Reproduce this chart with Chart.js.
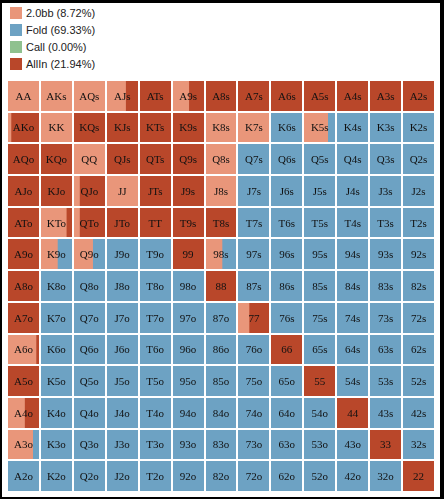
<!DOCTYPE html>
<html>
<head>
<meta charset="utf-8">
<script src="https://cdn.jsdelivr.net/npm/chart.js@4.4.1/dist/chart.umd.min.js"></script>
<style>
  html, body { margin: 0; padding: 0; background: #000; }
  #panel { position: absolute; left: 2px; top: 3px; width: 438px; height: 494px; background: #fff; }
  #legend { position: absolute; left: 8px; top: 1px; font: 11px "Liberation Sans", Arial, sans-serif; color: #222; }
  #legend div { height: 17px; display: flex; align-items: center; }
  #legend span.box { display: inline-block; width: 12px; height: 12px; margin-right: 4px; }
  #wrap { position: absolute; left: 5px; top: 77px; width: 428px; height: 412px; }
</style>
</head>
<body>
<div id="panel">
  <div id="legend"></div>
  <div id="wrap"><canvas id="rangeChart"></canvas></div>
</div>
<script>
// hand ranks, rows and columns of the grid
const ranks = ['A', 'K', 'Q', 'J', 'T', '9', '8', '7', '6', '5', '4', '3', '2'];

// actions, colours and overall share (%) shown in the legend
const actions = ['2.0bb', 'Fold', 'Call', 'AllIn'];
const actionColors = ['#e9967a', '#6da2c3', '#8fc18f', '#b9472a'];
const actionShares = [8.72, 69.33, 0.00, 21.94];

// frequency of each action per hand (row = first rank, col = second rank)
const raise2bb = [
  [1, 1, 1, 0.6, 0, 0.52, 0, 0, 0, 0, 0, 0, 0],
  [0.12, 1, 0, 0, 0, 0, 1, 1, 0, 0.74, 0, 0, 0],
  [0, 0, 1, 0, 0, 0, 1, 0, 0, 0, 0, 0, 0],
  [0, 0, 0.2, 1, 0, 0, 1, 0, 0, 0, 0, 0, 0],
  [0, 0.8, 0.2, 0, 0, 0, 0, 0, 0, 0, 0, 0, 0],
  [0, 0.53, 0.6, 0, 0, 0, 0.53, 0, 0, 0, 0, 0, 0],
  [0, 0, 0, 0, 0, 0, 0, 0, 0, 0, 0, 0, 0],
  [0, 0, 0, 0, 0, 0, 0, 0.35, 0, 0, 0, 0, 0],
  [0.88, 0, 0, 0, 0, 0, 0, 0, 0, 0, 0, 0, 0],
  [0, 0, 0, 0, 0, 0, 0, 0, 0, 0, 0, 0, 0],
  [0.53, 0, 0, 0, 0, 0, 0, 0, 0, 0, 0, 0, 0],
  [0.78, 0, 0, 0, 0, 0, 0, 0, 0, 0, 0, 0, 0],
  [0, 0, 0, 0, 0, 0, 0, 0, 0, 0, 0, 0, 0]
];

const fold = [
  [0, 0, 0, 0, 0, 0, 0, 0, 0, 0, 0, 0, 0],
  [0, 0, 0, 0, 0, 0, 0, 0, 1, 0.26, 1, 1, 1],
  [0, 0, 0, 0, 0, 0, 0, 1, 1, 1, 1, 1, 1],
  [0, 0, 0, 0, 0, 0, 0, 1, 1, 1, 1, 1, 1],
  [0, 0, 0, 0, 0, 0, 0, 1, 1, 1, 1, 1, 1],
  [0, 0.47, 0.4, 1, 1, 0, 0.47, 1, 1, 1, 1, 1, 1],
  [0, 1, 1, 1, 1, 1, 0, 1, 1, 1, 1, 1, 1],
  [0, 1, 1, 1, 1, 1, 1, 0, 1, 1, 1, 1, 1],
  [0, 1, 1, 1, 1, 1, 1, 1, 0, 1, 1, 1, 1],
  [0, 1, 1, 1, 1, 1, 1, 1, 1, 0, 1, 1, 1],
  [0, 1, 1, 1, 1, 1, 1, 1, 1, 1, 0, 1, 1],
  [0.22, 1, 1, 1, 1, 1, 1, 1, 1, 1, 1, 0, 1],
  [1, 1, 1, 1, 1, 1, 1, 1, 1, 1, 1, 1, 0]
];

const call = ranks.map(() => ranks.map(() => 0));

const allIn = [
  [0, 0, 0, 0.4, 1, 0.48, 1, 1, 1, 1, 1, 1, 1],
  [0.88, 0, 1, 1, 1, 1, 0, 0, 0, 0, 0, 0, 0],
  [1, 1, 0, 1, 1, 1, 0, 0, 0, 0, 0, 0, 0],
  [1, 1, 0.8, 0, 1, 1, 0, 0, 0, 0, 0, 0, 0],
  [1, 0.2, 0.8, 1, 1, 1, 1, 0, 0, 0, 0, 0, 0],
  [1, 0, 0, 0, 0, 1, 0, 0, 0, 0, 0, 0, 0],
  [1, 0, 0, 0, 0, 0, 1, 0, 0, 0, 0, 0, 0],
  [1, 0, 0, 0, 0, 0, 0, 0.65, 0, 0, 0, 0, 0],
  [0.12, 0, 0, 0, 0, 0, 0, 0, 1, 0, 0, 0, 0],
  [1, 0, 0, 0, 0, 0, 0, 0, 0, 1, 0, 0, 0],
  [0.47, 0, 0, 0, 0, 0, 0, 0, 0, 0, 1, 0, 0],
  [0, 0, 0, 0, 0, 0, 0, 0, 0, 0, 0, 1, 0],
  [0, 0, 0, 0, 0, 0, 0, 0, 0, 0, 0, 0, 1]
];

const freqs = [raise2bb, fold, call, allIn];

//hand name for a cell: suited above the diagonal, offsuit below
function handLabel(i, j) {
  if (i === j) return ranks[i] + ranks[j];
  if (j > i) return ranks[i] + ranks[j] + 's';
  return ranks[j] + ranks[i] + 'o';
}

//each action becomes floating bars laid side by side inside each cell
function buildBars(a) {
  let bars = [];
  for (let i = 0; i < ranks.length; i++) {
    for (let j = 0; j < ranks.length; j++) {
      let start = j;
      for (let k = 0; k < a; k++) start += freqs[k][i][j];
      let w = freqs[a][i][j];
      if (w > 0) bars.push({ x: [start, start + w], y: ranks[i] });
    }
  }
  return bars;
}

const datasets = actions.map((name, a) => ({
  label: name,
  data: buildBars(a),
  backgroundColor: actionColors[a],
  borderWidth: 0,
  grouped: false,
  barPercentage: 1,
  categoryPercentage: 1
}));

//draw hand names on top of the cells
const cellLabels = {
  id: 'cellLabels',
  afterDraw(chart) {
    const { ctx, scales: { x, y } } = chart;
    ctx.save();
    ctx.font = '11px "Liberation Serif", "Times New Roman", serif';
    ctx.fillStyle = '#111';
    ctx.textAlign = 'center';
    ctx.textBaseline = 'middle';
    for (let i = 0; i < ranks.length; i++) {
      for (let j = 0; j < ranks.length; j++) {
        ctx.fillText(handLabel(i, j), x.getPixelForValue(j + 0.5), y.getPixelForValue(i) + 1);
      }
    }
    ctx.restore();
  }
};

let elChart = document.getElementById('rangeChart').getContext('2d');
let rangeChart = new Chart(elChart, {
  type: 'bar',
  data: { labels: ranks, datasets: datasets },
  options: {
    indexAxis: 'y',
    responsive: true,
    maintainAspectRatio: false,
    animation: false,
    layout: { padding: 0 },
    plugins: { legend: { display: false }, tooltip: { enabled: false } },
    scales: {
      x: {
        type: 'linear', min: 0, max: 13,
        ticks: { stepSize: 1, display: false },
        grid: { color: '#ffffff', lineWidth: 2, drawTicks: false, z: 1 },
        border: { display: false }
      },
      y: {
        type: 'category', offset: true,
        ticks: { display: false },
        grid: { offset: true, color: '#ffffff', lineWidth: 2, drawTicks: false, z: 1 },
        border: { display: false }
      }
    }
  },
  plugins: [cellLabels]
});

//legend built from the datasets
let legendEl = document.getElementById('legend');
rangeChart.data.datasets.forEach((ds, a) => {
  let row = document.createElement('div');
  row.innerHTML = '<span class="box" style="background:' + ds.backgroundColor + '"></span>' +
    ds.label + ' (' + actionShares[a].toFixed(2) + '%)';
  legendEl.appendChild(row);
});
</script>
</body>
</html>
